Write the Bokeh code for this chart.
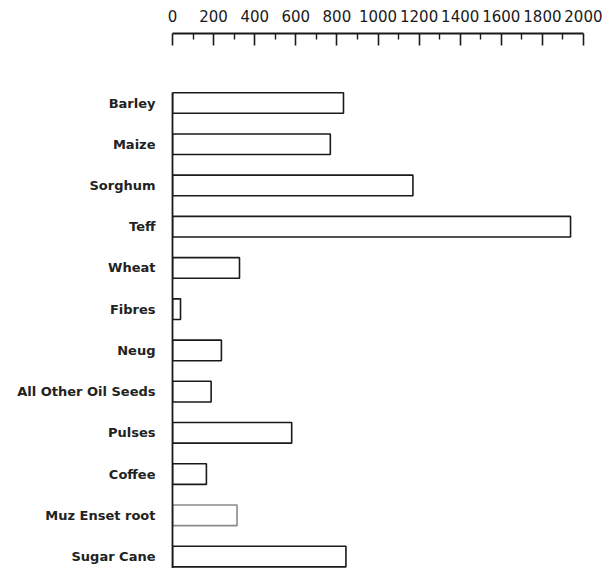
from bokeh.plotting import figure
from bokeh.models import ColumnDataSource, Range1d, FixedTicker
from bokeh.embed import file_html
from bokeh.resources import INLINE

# ---- data ----
crops = ["Barley", "Maize", "Sorghum", "Teff", "Wheat", "Fibres", "Neug",
         "All Other Oil Seeds", "Pulses", "Coffee", "Muz Enset root", "Sugar Cane"]
values = [832, 768, 1170, 1937, 326, 39, 238, 188, 580, 165, 314, 844]
x_major_ticks = [0, 200, 400, 600, 800, 1000, 1200, 1400, 1600, 1800, 2000]
x_minor_ticks = [100, 300, 500, 700, 900, 1100, 1300, 1500, 1700, 1900]

n = len(crops)
ypos = [n - 1 - i for i in range(n)]
line_colors = ["#8a8a8a" if c == "Muz Enset root" else "#1a1a1a" for c in crops]

source = ColumnDataSource(dict(y=ypos, right=values, crop=crops, lc=line_colors))

y_start, y_end = -0.29, 12.686

p = figure(width=602, height=568, output_backend="svg", toolbar_location=None,
           x_axis_location="above",
           x_range=Range1d(0, 2000), y_range=Range1d(y_start, y_end),
           min_border_left=172, min_border_right=19, min_border_top=33,
           min_border_bottom=0)
p.outline_line_color = None
p.background_fill_color = "white"
p.border_fill_color = "white"
p.xgrid.grid_line_color = None
p.ygrid.grid_line_color = None

p.hbar(y="y", left=0, right="right", height=0.5, source=source,
       fill_color="white", line_color="lc", line_width=1.6)

# top axis
xa = p.xaxis[0]
xa.ticker = FixedTicker(ticks=x_major_ticks, minor_ticks=x_minor_ticks)
xa.axis_line_color = "#1a1a1a"
xa.axis_line_width = 1.8
xa.major_tick_in = 12
xa.major_tick_out = 0
xa.minor_tick_in = 6
xa.minor_tick_out = 0
xa.major_tick_line_width = 1.6
xa.minor_tick_line_width = 1.4
xa.major_tick_line_color = "#1a1a1a"
xa.minor_tick_line_color = "#1a1a1a"
xa.major_label_text_font = "DejaVu Sans"
xa.major_label_text_font_size = "15px"
xa.major_label_text_color = "#1a1a1a"
xa.major_label_standoff = 12

# left axis
ya = p.yaxis[0]
ya.ticker = FixedTicker(ticks=ypos)
ya.major_label_overrides = {y: c for y, c in zip(ypos, crops)}
ya.bounds = (y_start, 11.255)
ya.axis_line_color = "#1a1a1a"
ya.axis_line_width = 1.8
ya.major_tick_line_color = None
ya.minor_tick_line_color = None
ya.major_tick_in = 0
ya.major_tick_out = 0
ya.major_label_standoff = 17
ya.major_label_text_font = "DejaVu Sans"
ya.major_label_text_font_style = "bold"
ya.major_label_text_font_size = "13px"
ya.major_label_text_color = "#222222"

open("out.html", "w").write(file_html(p, INLINE))
